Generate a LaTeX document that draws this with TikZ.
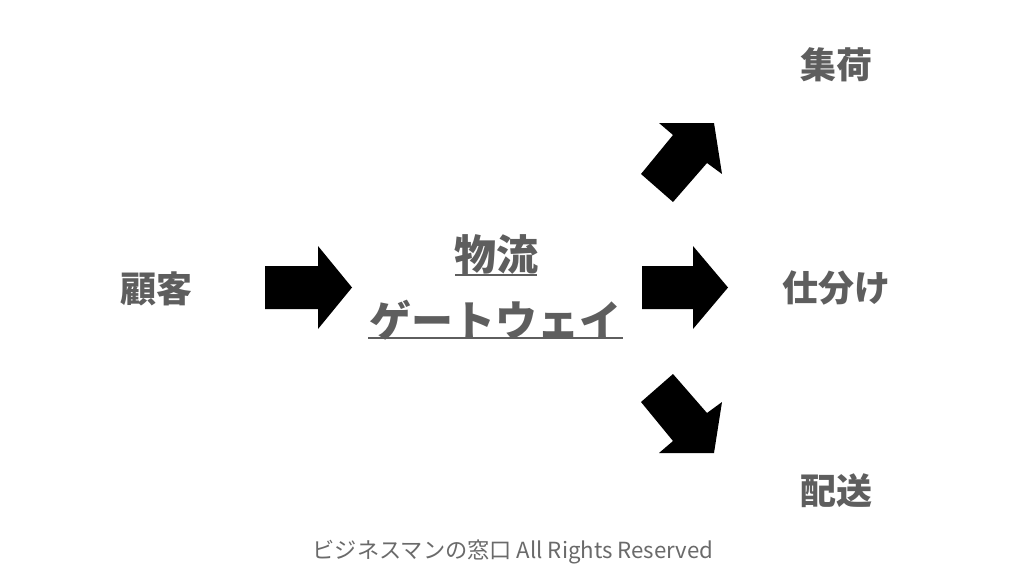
\documentclass[tikz,border=0pt]{standalone}
\usepackage{fontspec}
\newfontfamily\jp{Noto Sans CJK JP}
\definecolor{txt}{HTML}{5E5E5E}
\definecolor{foot}{HTML}{6A6A6A}
\begin{document}
\begin{tikzpicture}[x=1pt,y=-1pt,
  lbl/.style={text=txt,font=\jp\bfseries\fontsize{36}{40}\selectfont,inner sep=0pt,anchor=center},
  big/.style={text=txt,font=\jp\bfseries\fontsize{42}{46}\selectfont,inner sep=0pt,anchor=center},
  blk/.style={fill=black,draw=none},
  uline/.style={draw=txt,line width=1.6pt}]
\useasboundingbox (0,0) rectangle (1024,576);
\fill[white] (0,0) rectangle (1024,576);
% labels
\node[lbl] (kokyaku) at (156,289) {顧客};
\node[big] (butsuryu) at (496,255) {物流};
\node[big] (gateway) at (495,320) {ゲートウェイ};
\node[lbl] (shuka) at (836,65) {集荷};
\node[lbl] (shiwake) at (836,288) {仕分け};
\node[lbl] (haiso) at (836,491) {配送};
\node[text=foot,font=\jp\fontsize{22.2}{26}\selectfont,inner sep=0pt] (footer) at (513,552) {ビジネスマンの窓口 All Rights Reserved};
% underlines
\draw[uline] (455,275) -- (537,275);
\draw[uline] (368,338) -- (623,338);
% block arrows
\fill[blk] (265,266) -- (318,266) -- (318,246) -- (352,287.5) -- (318,329) -- (318,309) -- (265,309) -- cycle;
\fill[blk] (642,266) -- (693,266) -- (693,246) -- (728,287.5) -- (693,329) -- (693,309) -- (642,309) -- cycle;
\fill[blk] (641,174) -- (673,135) -- (659,123) -- (714,123) -- (722,174) -- (707,163) -- (673,202) -- cycle;
\fill[blk] (641,402) -- (673,441) -- (659,453) -- (714,453) -- (722,402) -- (707,413) -- (673,374) -- cycle;
\end{tikzpicture}
\end{document}
